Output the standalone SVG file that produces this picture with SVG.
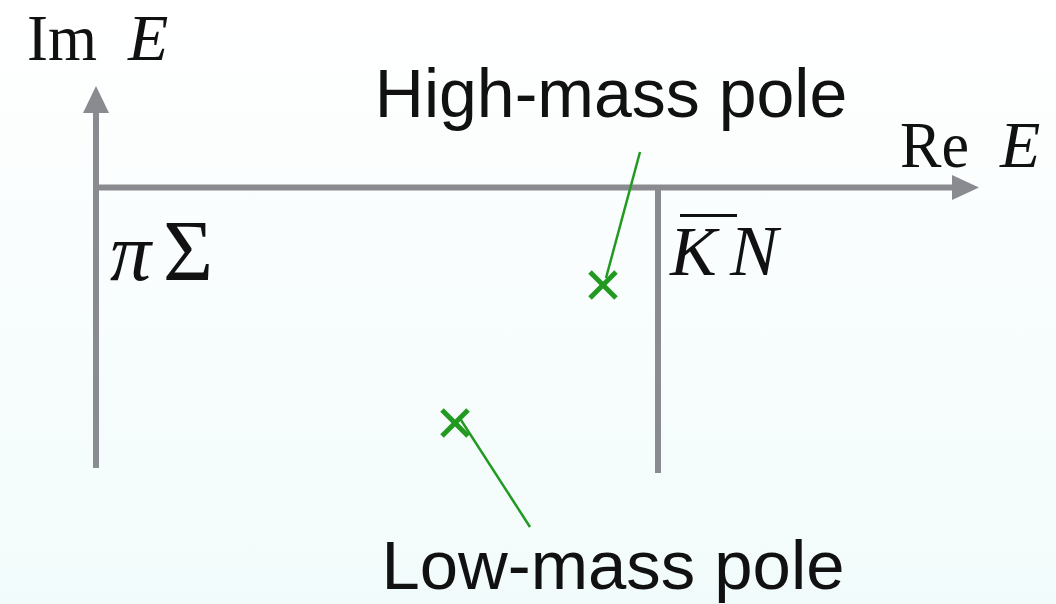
<svg xmlns="http://www.w3.org/2000/svg" width="1056" height="604" viewBox="0 0 1056 604">
  <defs>
    <linearGradient id="bg" x1="0" y1="0" x2="0" y2="1">
      <stop offset="0" stop-color="#ffffff"/>
      <stop offset="1" stop-color="#f2fbfb"/>
    </linearGradient>
    <style>
      .axis { stroke: #898b90; stroke-width: 6; fill: none; }
      .head { fill: #898b90; }
      .math { font-family: "Liberation Serif", "DejaVu Serif", serif; fill: #111; }
      .it { font-style: italic; }
      .lbl { font-family: "Liberation Sans", Arial, sans-serif; font-size: 68px; fill: #111; text-anchor: middle; }
      .pole { stroke: #229a22; stroke-width: 5; fill: none; }
      .lead { stroke: #229a22; stroke-width: 2.5; fill: none; }
    </style>
  </defs>
  <rect x="0" y="0" width="1056" height="604" fill="url(#bg)"/>

  <g id="axes">
    <line class="axis" x1="96" y1="468" x2="96" y2="110"/>
    <polygon class="head" points="96,86 83,113 109,113"/>
    <line class="axis" x1="93" y1="187.5" x2="955" y2="187.5"/>
    <polygon class="head" points="979,187.5 952,175 952,200"/>
    <line class="axis" x1="658" y1="185" x2="658" y2="473"/>
  </g>

  <g id="axis-labels">
    <text class="math" x="27" y="60" font-size="66" textLength="70" lengthAdjust="spacingAndGlyphs">Im</text>
    <text class="math it" x="128" y="60" font-size="66">E</text>
    <text class="math" x="900" y="167" font-size="66" textLength="69" lengthAdjust="spacingAndGlyphs">Re</text>
    <text class="math it" x="1000" y="167" font-size="66">E</text>
  </g>

  <g id="piSigma">
    <text class="math it" x="110" y="280" font-size="82">π</text>
    <text class="math" x="163" y="280" font-size="86">Σ</text>
  </g>

  <g id="KbarN">
    <line x1="680" y1="215.5" x2="737" y2="215.5" stroke="#111" stroke-width="3"/>
    <text class="math it" x="670" y="275" font-size="70">K</text>
    <text class="math it" x="730" y="275" font-size="72">N</text>
  </g>

  <g id="high-pole">
    <line class="pole" x1="590" y1="272" x2="616" y2="298"/>
    <line class="pole" x1="616" y1="272" x2="590" y2="298"/>
  </g>
  <g id="low-pole">
    <line class="pole" x1="442" y1="410" x2="468" y2="436"/>
    <line class="pole" x1="468" y1="410" x2="442" y2="436"/>
  </g>

  <g id="connectors">
    <line class="lead" x1="640" y1="152" x2="606" y2="278"/>
    <line class="lead" x1="461" y1="420" x2="530" y2="527"/>
  </g>

  <g id="high-label">
    <text class="lbl" x="611" y="117">High-mass pole</text>
  </g>
  <g id="low-label">
    <text class="lbl" x="613" y="589" font-size="67" textLength="463" lengthAdjust="spacingAndGlyphs">Low-mass pole</text>
  </g>
</svg>
